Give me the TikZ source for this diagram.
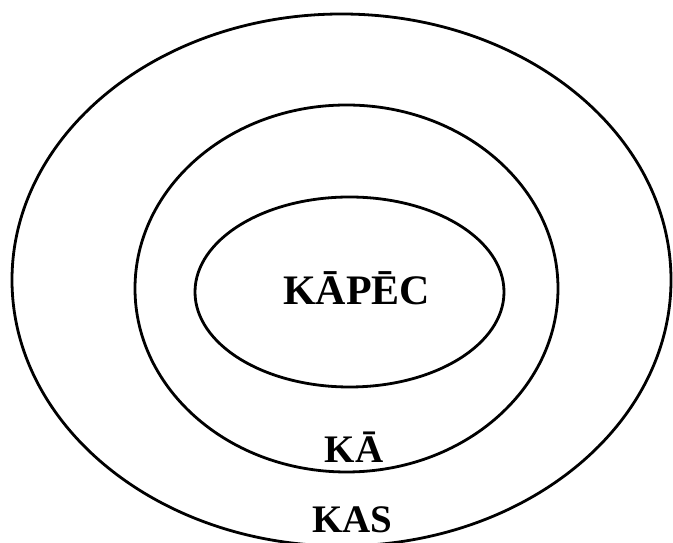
\documentclass[tikz,border=0pt]{standalone}
\usepackage{fontspec}
\setmainfont{Liberation Serif}

\begin{document}
\begin{tikzpicture}[x=1pt,y=1pt,
 ring/.style={draw,line width=2.8pt},
 lbl/.style={anchor=base,inner sep=0pt,font=\bfseries\fontsize{39}{39}\selectfont},
 big/.style={lbl,font=\bfseries\fontsize{42}{42}\selectfont}]
\useasboundingbox (0,0) rectangle (673,543);
\draw[ring] (341.5,263) ellipse [x radius=329.5,y radius=266];
\draw[ring] (346.5,254.5) ellipse [x radius=211.5,y radius=183.5];
\draw[ring] (349.5,251) ellipse [x radius=154.5,y radius=95];
\node[big] (kapec) at (356.5,238) {KĀPĒC};
\node[lbl] (ka) at (354,80) {KĀ};
\node[lbl] (kas) at (352.5,10) {KAS};
\end{tikzpicture}
\end{document}
